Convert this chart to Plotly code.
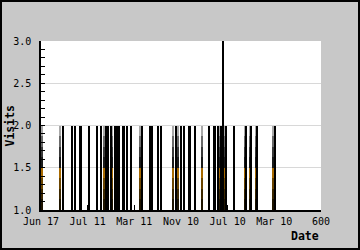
import plotly.graph_objects as go

# ---- data ----
tick_vals = [0, 100, 200, 300, 400, 500, 600]
tick_labels = ["Jun 17", "Jul 11", "Mar 11", "Nov 10", "Jul 10", "Mar 10", "600"]

black_x = [47, 66, 73, 84, 86, 103, 120, 129, 139, 144, 150, 159, 163, 167,
           176, 178, 184, 193, 216, 234, 238, 251, 257, 289, 300, 306, 317,
           319, 329, 359, 371, 373, 380, 386, 396, 414, 440, 450, 463, 502]
black_visits = [2, 2, 2, 2, 2, 2, 2, 2, 2, 2, 2, 2, 2, 2,
                2, 2, 2, 2, 2, 2, 2, 2, 2, 2, 2, 2, 2,
                2, 2, 2, 2, 2, 2, 2, 2, 2, 2, 2, 2, 2]

shade_x = [3, 42, 136, 152, 212, 284, 295, 346, 384, 392, 437, 449, 461, 498]
shade_visits = [2, 2, 2, 2, 2, 2, 2, 2, 2, 2, 2, 2, 2, 2]

peak_x = [389]
peak_visits = [3]

# ---- figure ----
fig = go.Figure()

segments = [
    (1.0, 1.125, "#1e1400"), (1.125, 1.25, "#3d2800"),
    (1.25, 1.375, "#6b4500"), (1.375, 1.5, "#a86a00"),
    (1.5, 1.625, "#1a1a1a"), (1.625, 1.75, "#3a3a3a"),
    (1.75, 1.875, "#6a6a6a"), (1.875, 2.0, "#a8a8a8"),
]
for lo, hi, col in segments:
    fig.add_trace(go.Bar(
        x=shade_x,
        y=[max(0, min(v, hi) - lo) for v in shade_visits],
        base=lo, width=3.4, marker=dict(color=col, line=dict(width=0)),
        showlegend=False, hoverinfo="skip"))

fig.add_trace(go.Bar(x=black_x, y=black_visits, width=4.3,
                     marker=dict(color="#000000", line=dict(width=0)),
                     showlegend=False))
fig.add_trace(go.Bar(x=peak_x, y=peak_visits, width=2.2,
                     marker=dict(color="#000000", line=dict(width=0)),
                     showlegend=False))

font = "DejaVu Sans Mono"
L, R, T, B = 41, 39, 41, 40
W, H = 360, 250
pw, ph = W - L - R, H - T - B

fig.update_layout(
    width=W, height=H,
    margin=dict(l=L, r=R, t=T, b=B, pad=0),
    paper_bgcolor="#c8c8c8", plot_bgcolor="#ffffff",
    barmode="overlay", bargap=0,
    font=dict(family=font, size=10, color="#000000"),
    xaxis=dict(range=[0, 600], tickmode="array", tickvals=tick_vals,
               ticktext=tick_labels, ticks="inside", ticklen=5,
               tickwidth=1, tickcolor="#000", showgrid=False,
               showline=True, linecolor="#000", linewidth=1.5,
               zeroline=False, ticklabelstandoff=1,
               tickfont=dict(family=font, size=10)),
    yaxis=dict(range=[1, 3], dtick=0.5, tickformat=".1f", ticks="inside",
               ticklen=4, tickwidth=1, tickcolor="#000",
               showgrid=True, gridcolor="#d8d8d8", gridwidth=1,
               showline=True, linecolor="#000", linewidth=1.5,
               zeroline=False, ticklabelstandoff=6,
               minor=dict(dtick=0.1, ticks="inside", ticklen=4,
                          tickcolor="#000", showgrid=False),
               tickfont=dict(family=font, size=10)),
    annotations=[
        dict(text="<b>Visits</b>", textangle=-90, xref="paper", yref="paper",
             x=(9 - L) / pw, y=0.5, xanchor="center", yanchor="middle",
             showarrow=False, font=dict(family=font, size=11.5)),
        dict(text="<b>Date</b>", xref="paper", yref="paper",
             x=1.0, y=-(236 - (T + ph)) / ph, xanchor="right", yanchor="middle",
             showarrow=False, font=dict(family=font, size=11.5)),
    ],
    shapes=[
        dict(type="rect", xref="paper", yref="paper",
             x0=(1 - L) / pw, x1=(W - 1 - L) / pw,
             y0=(T + ph - (H - 1)) / ph, y1=1 + (T - 1) / ph,
             line=dict(color="#000", width=2), layer="above"),
    ],
)

fig.write_html("out.html")
